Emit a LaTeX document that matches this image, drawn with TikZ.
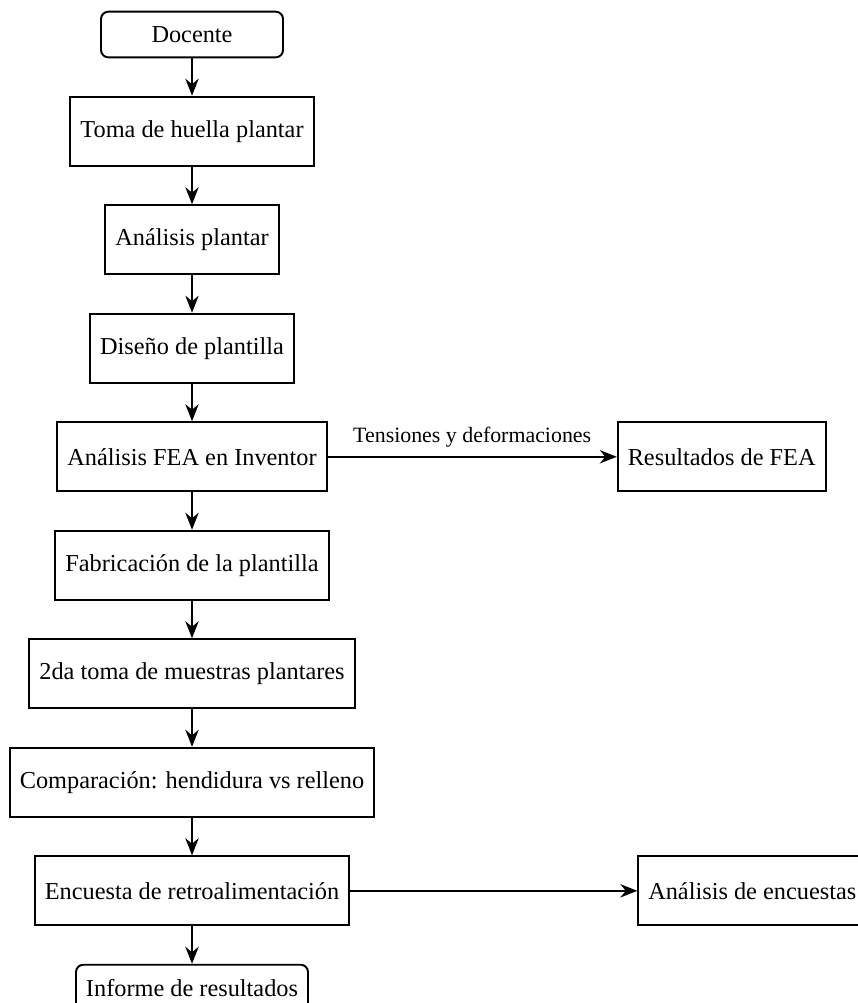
\documentclass[tikz,border=0pt]{standalone}
\usepackage{fontspec}
\setmainfont{Liberation Serif}
\usetikzlibrary{positioning}
\usetikzlibrary{arrows.meta}

\begin{document}
\begin{tikzpicture}[thick,node distance=0.54cm,
    paso/.style={draw,rectangle,inner sep=4.1pt,minimum height=1cm},
    extremo/.style={draw,rectangle,rounded corners=3pt,inner sep=4.1pt,minimum width=2.63cm,minimum height=0.66cm},
    flecha/.style={-{Stealth[length=7pt,width=5.5pt]}}]
    \useasboundingbox (-2.775,-13.996) rectangle (9.624,0.499);
    \node[extremo] (docente) at (0,0) {Docente};
    \node[paso,below=of docente] (huella) {Toma de huella plantar};
    \node[paso,below=of huella] (analisis) {Análisis plantar};
    \node[paso,below=of analisis] (diseno) {Diseño de plantilla};
    \node[paso,below=of diseno] (fea) {Análisis FEA en Inventor};
    \node[paso,below=of fea] (fabricacion) {Fabricación de la plantilla};
    \node[paso,below=of fabricacion] (muestras) {2da toma de muestras plantares};
    \node[paso,below=of muestras] (comparacion) {Comparación: hendidura vs relleno};
    \node[paso,below=of comparacion] (encuesta) {Encuesta de retroalimentación};
    \node[extremo,below=of encuesta] (informe) {Informe de resultados};
    \node[paso,right=4.18cm of fea] (resfea) {Resultados de FEA};
    \node[paso,right=4.15cm of encuesta] (resencuesta) {Análisis de encuestas};
    \draw[flecha] (docente)--(huella);
    \draw[flecha] (huella)--(analisis);
    \draw[flecha] (analisis)--(diseno);
    \draw[flecha] (diseno)--(fea);
    \draw[flecha] (fea)--(fabricacion);
    \draw[flecha] (fabricacion)--(muestras);
    \draw[flecha] (muestras)--(comparacion);
    \draw[flecha] (comparacion)--(encuesta);
    \draw[flecha] (encuesta)--(informe);
    \draw[flecha] (fea)--node[above,font=\small]{Tensiones y deformaciones}(resfea);
    \draw[flecha] (encuesta)--(resencuesta);
  \end{tikzpicture}
\end{document}
